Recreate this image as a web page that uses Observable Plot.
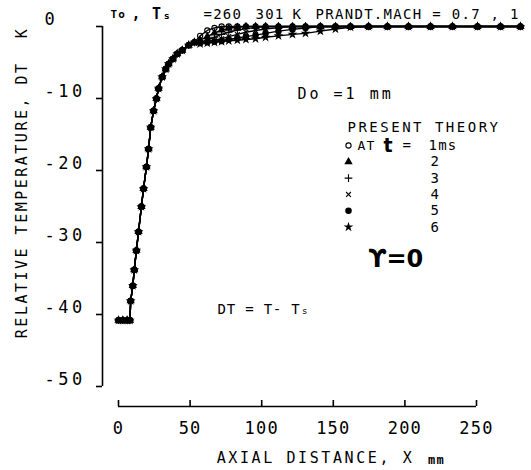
<!DOCTYPE html>
<html><head><meta charset="utf-8">
<script src="https://cdn.jsdelivr.net/npm/d3@7"></script>
<script src="https://cdn.jsdelivr.net/npm/@observablehq/plot@0.6"></script>
<style>
html,body{margin:0;padding:0;background:#fff;}
svg{font-family:"DejaVu Sans Mono",monospace;}
svg text{letter-spacing:1.2px;}
</style></head><body><div id="chart"></div>
<script>
// Shared steady part of the profiles (x in mm, DT in K)
const nearX  = [0, 3, 6, 8, 8.5, 10, 11, 12.5, 14, 16, 17.5, 19.5, 21, 22.5, 24.5, 26.5, 28, 30.5, 33, 35, 38, 41, 44.5, 49, 53];
const nearDT = [-40.8, -40.8, -40.8, -40.8, -38.1, -36, -33.8, -31.1, -28.5, -25, -22.5, -19.5, -17, -14, -11.7, -10, -8.6, -7, -5.9, -5.2, -4.5, -3.8, -3.3, -2.6, -2.2];
// Downstream part, one list per time
const farX = [57, 62, 67, 72, 77, 83, 89, 95.7, 102.7, 111.7, 121.5, 130.6, 141, 151.5, 162, 174.6, 187.8, 202.5, 217.9, 233.2, 250.7, 266.8, 280.7];
const dt1 = [-1.3, -0.55, -0.2, 0, 0, 0, 0, 0, 0, 0, 0, 0, 0, 0, 0, 0, 0, 0, 0, 0, 0, 0, 0];
const dt2 = [-1.9, -1.4, -0.9, -0.5, -0.25, -0.1, 0, 0, 0, 0, 0, 0, 0, 0, 0, 0, 0, 0, 0, 0, 0, 0, 0];
const dt3 = [-2.2, -1.9, -1.5, -1.1, -0.8, -0.5, -0.3, -0.15, 0, 0, 0, 0, 0, 0, 0, 0, 0, 0, 0, 0, 0, 0, 0];
const dt4 = [-2.3, -2.1, -1.9, -1.7, -1.4, -1.1, -0.8, -0.55, -0.35, -0.15, 0, 0, 0, 0, 0, 0, 0, 0, 0, 0, 0, 0, 0];
const dt5 = [-2.3, -2.2, -2.1, -2.0, -1.8, -1.6, -1.4, -1.2, -0.95, -0.65, -0.4, -0.2, 0, 0, 0, 0, 0, 0, 0, 0, 0, 0, 0];
const dt6 = [-2.4, -2.3, -2.2, -2.1, -2.0, -1.9, -1.8, -1.7, -1.5, -1.3, -1.1, -0.95, -0.65, -0.35, -0.1, 0, 0, 0, 0, 0, 0, 0, 0];
const times = ["1", "2", "3", "4", "5", "6"];
const xTicks = [0, 50, 100, 150, 200, 250];
const yTicks = [0, -10, -20, -30, -40, -50];

const far = [dt1, dt2, dt3, dt4, dt5, dt6];
const rows = [];
times.forEach((t, k) => {
  nearX.forEach((x, i) => rows.push({t, x, dt: nearDT[i]}));
  farX.forEach((x, i) => rows.push({t, x, dt: far[k][i]}));
});

const symbolOf = {"1": "circle", "2": "triangle", "3": "plus", "4": "times", "5": "circle", "6": "star"};
const fillOf = {"1": "none", "2": "black", "3": "none", "4": "none", "5": "black", "6": "black"};
const rOf = {"1": 2.6, "2": 2.4, "3": 2.6, "4": 2.3, "5": 2.7, "6": 2.0};

// drawing order: filled circles (t = 5) on top so coinciding markers read as dots
const drawOrder = ["6", "4", "3", "2", "1", "5"];
const dotMarks = drawOrder.map(t => Plot.dot(rows.filter(d => d.t === t), {
  x: "x", y: "dt", symbol: () => symbolOf[t], r: rOf[t],
  stroke: "black", strokeWidth: 1.1, fill: fillOf[t]
}));

// legend symbols (layout offsets from the top-left corner of the frame)
const legendDots = times.map((t, k) => Plot.dot([t], {
  frameAnchor: "top-left", dx: 230, dy: 119 + k * 16.3,
  symbol: () => symbolOf[t], r: rOf[t], stroke: "black", strokeWidth: 1.1, fill: fillOf[t]
}));

const A = (txt, dx, dy, opts = {}) => Plot.text([txt], {frameAnchor: "top-left", text: d => d, dx, dy, textAnchor: "start", lineAnchor: "middle", fontSize: 14, ...opts});

const chart = Plot.plot({
  width: 531, height: 470,
  marginLeft: 118, marginRight: 55, marginTop: 26, marginBottom: 84,
  x: {domain: [0, 250], axis: null},
  y: {domain: [-50, 0], axis: null},
  style: {background: "white", color: "black", fontFamily: "DejaVu Sans Mono"},
  marks: [
    // y axis
    Plot.ruleX([0], {y1: -50, y2: 0, dx: -16, stroke: "black", strokeWidth: 1.6}),
    Plot.ruleY(yTicks, {y: d => d, x1: 0, x2: 0, insetLeft: -6, dx: -16, stroke: "black", strokeWidth: 1.6}),
    Plot.text(yTicks, {x: 0, y: d => d, text: d => String(d), dx: -74, dy: -7, textAnchor: "start", fontSize: 17}),
    // x axis
    Plot.ruleY([-50], {x1: 0, x2: 250, dy: 20, stroke: "black", strokeWidth: 1.6}),
    Plot.ruleX(xTicks, {x: d => d, y1: -50, y2: -50, insetTop: -6, dy: 20, stroke: "black", strokeWidth: 1.6}),
    Plot.text(xTicks, {x: d => d, y: -50, dy: 42, text: d => String(d), fontSize: 17}),
    // axis titles
    Plot.text(["RELATIVE TEMPERATURE, DT  K"], {frameAnchor: "left", text: d => d, textAnchor: "middle", lineAnchor: "middle", rotate: -90, dx: -96, dy: -24, fontSize: 15}),
    Plot.text(["AXIAL DISTANCE, X"], {frameAnchor: "bottom", text: d => d, textAnchor: "middle", lineAnchor: "middle", dx: 18, dy: 72, fontSize: 15}),
    Plot.text(["mm"], {frameAnchor: "bottom", text: d => d, textAnchor: "middle", lineAnchor: "middle", dx: 139, dy: 74, fontSize: 12, fontWeight: "bold"}),
    // curves
    Plot.line(rows, {x: "x", y: "dt", z: "t", stroke: "black", strokeWidth: 1.4}),
    ...dotMarks,
    // header line
    A("To", -8, -12, {fontSize: 11, fontWeight: "bold"}),
    A(", T\u209B", 13, -12, {fontSize: 15, fontWeight: "bold"}),
    A("=260", 85, -12, {fontSize: 14}),
    A("301", 137, -12, {fontSize: 14}),
    A("K", 174, -12, {fontSize: 14}),
    A("PRANDT.MACH = 0.7 , 1", 197, -12, {fontSize: 14}),
    // annotations
    A("Do =1 mm", 179, 68, {fontSize: 15}),
    A("PRESENT THEORY", 229, 101, {fontSize: 14}),
    A("AT", 239, 119, {fontSize: 13}),
    A("t", 265, 119, {fontSize: 19, fontWeight: "bold", fontFamily: "DejaVu Sans"}),
    A("=", 284, 119, {fontSize: 14}),
    A("1ms", 310, 119, {fontSize: 14}),
    ...legendDots,
    ...times.slice(1).map((t, k) => A(t, 312, 135.5 + k * 16.3, {fontSize: 14})),
    A("\u03D2=0", 250, 233, {fontSize: 24, fontWeight: "bold", fontFamily: "DejaVu Sans"}),
    A("DT = T- T\u209B", 99, 283, {fontSize: 14})
  ]
});

// letter spacing of the plotter lettering
const spacing = new Map([
  ["RELATIVE TEMPERATURE, DT  K", 2.5],
  ["AXIAL DISTANCE, X", 2.6],
  ["PRESENT THEORY", 2.5],
  ["PRANDT.MACH = 0.7 , 1", 1.3],
  ["\u03D2=0", 0],
  ["Do =1 mm", 3],
  ["DT = T- T\u209B", 0.8]
]);
d3.select(chart).selectAll("text").each(function () {
  const s = this.textContent;
  if (spacing.has(s)) this.style.letterSpacing = spacing.get(s) + "px";
  else if (/^-\d+$/.test(s)) this.style.letterSpacing = "3.5px";
});
document.getElementById("chart").appendChild(chart);
</script></body></html>
